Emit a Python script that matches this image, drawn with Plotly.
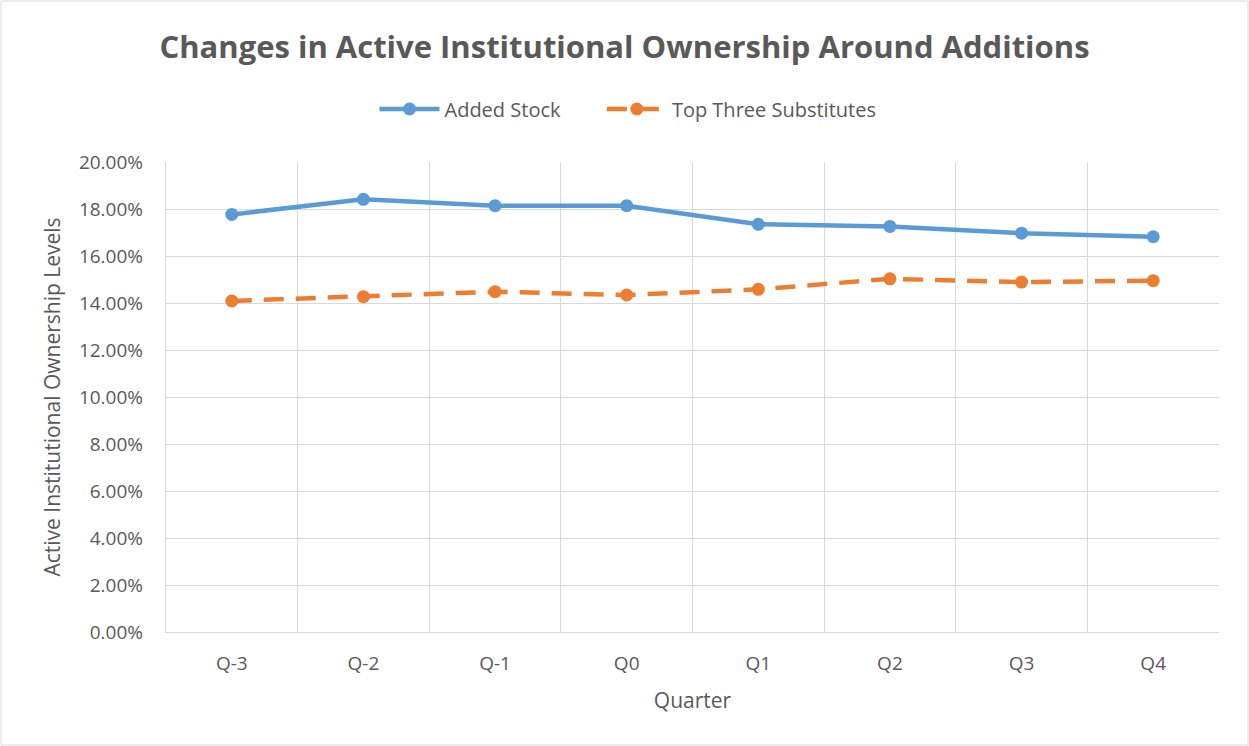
import plotly.graph_objects as go

quarters = ["Q-3", "Q-2", "Q-1", "Q0", "Q1", "Q2", "Q3", "Q4"]
added_stock = [0.1777, 0.1841, 0.1814, 0.1814, 0.1735, 0.1726, 0.1697, 0.1682]
top_three_subs = [0.1409, 0.1427, 0.1448, 0.1434, 0.1458, 0.1503, 0.1489, 0.1495]
y_ticks = [0.0, 0.02, 0.04, 0.06, 0.08, 0.10, 0.12, 0.14, 0.16, 0.18, 0.20]

W, H = 1249, 746
ml, mr, mt, mb = 166, 30, 162, 114
font = "Open Sans"
gray = "#595959"

fig = go.Figure()
fig.add_trace(go.Scatter(
    x=quarters, y=added_stock, name="Added Stock" + "\u00a0" * 7, mode="lines+markers",
    line=dict(color="#5B9BD5", width=4.5),
    marker=dict(size=13, color="#5B9BD5"),
))
fig.add_trace(go.Scatter(
    x=quarters, y=top_three_subs, name="Top Three Substitutes", mode="lines+markers",
    line=dict(color="#ED7D31", width=4.5, dash="20px,12px"),
    marker=dict(size=13, color="#ED7D31"),
))

pw = W - ml - mr
ph = H - mt - mb
fig.add_shape(type="rect", xref="paper", yref="paper",
              x0=(-ml + 1) / pw, x1=(W - ml - 1) / pw,
              y0=(-mb + 1) / ph, y1=(H - mb - 1) / ph,
              line=dict(color="#D9D9D9", width=1), layer="below")

fig.update_layout(
    width=W, height=H,
    margin=dict(l=ml, r=mr, t=mt, b=mb),
    paper_bgcolor="white", plot_bgcolor="white",
    font=dict(family=font, color=gray, size=18),
    title=dict(text="<b>Changes in Active Institutional Ownership Around Additions</b>",
               x=0.5, xanchor="center", y=1 - 47 / H, yanchor="middle",
               font=dict(size=31, color=gray, family=font)),
    legend=dict(orientation="h", x=(628 - ml) / pw, xanchor="center", y=1 + 53 / ph, yanchor="middle",
                font=dict(size=20, color=gray), itemwidth=60, bgcolor="rgba(0,0,0,0)"),
    showlegend=True,
)
fig.update_xaxes(
    type="category", tickson="boundaries", range=[-0.5, 7.5],
    showgrid=True, gridcolor="#D9D9D9", gridwidth=1.3,
    showline=True, linecolor="#D9D9D9", linewidth=1.3, mirror=False,
    ticks="", tickfont=dict(size=19, color=gray), ticklabelstandoff=14,
    title=dict(text="Quarter", font=dict(size=21, color=gray), standoff=18),
)
fig.update_yaxes(
    range=[0, 0.20], tickvals=y_ticks, tickformat=".2%",
    showgrid=True, gridcolor="#D9D9D9", gridwidth=1.3,
    zeroline=False, showline=True, linecolor="#D9D9D9", linewidth=1.3,
    ticks="", tickfont=dict(size=19, color=gray), ticklabelstandoff=18,
    title=dict(text="Active Institutional Ownership Levels", font=dict(size=21, color=gray), standoff=12),
)

fig.write_html("out.html")
